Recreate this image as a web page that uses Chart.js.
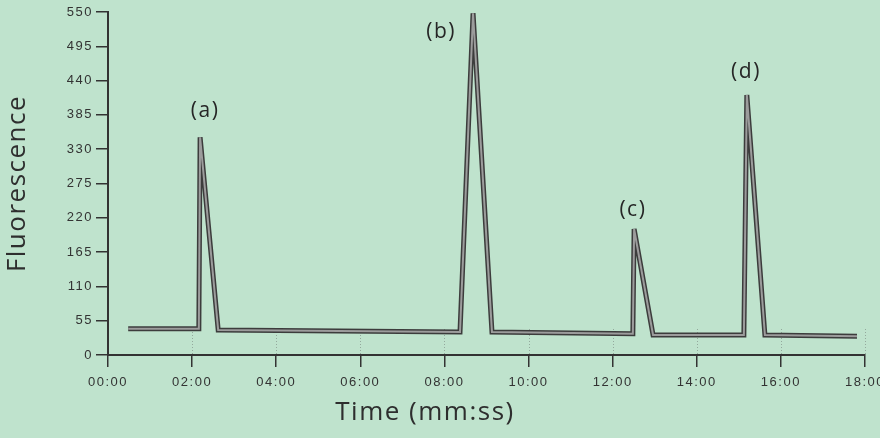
<!DOCTYPE html>
<html>
<head>
<meta charset="utf-8">
<script src="https://cdn.jsdelivr.net/npm/chart.js@4.4.1/dist/chart.umd.min.js"></script>
<style>
  html, body { margin: 0; padding: 0; background: #bfe3cd; }
  #wrap { width: 880px; height: 438px; }
</style>
</head>
<body>
<div id="wrap"><canvas id="fluo" width="880" height="438"></canvas></div>
<script>
// time in minutes, fluorescence
const times  = [0.48, 2.16, 2.19, 2.62, 8.37, 8.68, 9.13, 12.48, 12.51, 12.96, 15.12, 15.19, 15.62, 17.81];
const values = [42, 42, 349, 40, 37, 548, 37, 34, 202, 32, 32, 417, 32, 30];

const peakLabels = ['(a)', '(b)', '(c)', '(d)'];
const peakLabelTimes = [2.31, 7.92, 12.48, 15.17];
const peakLabelValues = [392, 518, 232, 454];

const yTicks = [0, 55, 110, 165, 220, 275, 330, 385, 440, 495, 550];
const xTicks = [0, 2, 4, 6, 8, 10, 12, 14, 16, 18];

const points = times.map((t, i) => ({ x: t, y: values[i] }));

const fmtTime = v => String(v).padStart(2, '0') + ':00';

// the scanned figure is a bit stretched sideways, so all text gets extra spacing
const extras = {
    id: 'extras',
    beforeDraw(chart) {
        chart.ctx.letterSpacing = '1.5px';
    },
    beforeDatasetsDraw(chart) {
        const ctx = chart.ctx, x = chart.scales.x, area = chart.chartArea;
        ctx.save();
        ctx.strokeStyle = 'rgba(120,130,125,0.6)';
        ctx.setLineDash([1, 2]);
        ctx.lineWidth = 1;
        xTicks.slice(1).forEach(t => {
            const px = Math.round(x.getPixelForValue(t)) + 0.5;
            ctx.beginPath();
            ctx.moveTo(px, area.bottom - 26);
            ctx.lineTo(px, area.bottom);
            ctx.stroke();
        });
        ctx.restore();
    },
    afterDraw(chart) {
        const ctx = chart.ctx, x = chart.scales.x, y = chart.scales.y;
        ctx.save();
        ctx.letterSpacing = '1.5px';
        ctx.fillStyle = '#262626';
        ctx.textAlign = 'center';
        ctx.textBaseline = 'middle';
        ctx.font = '21px "Open Sans"';
        peakLabels.forEach((lbl, i) => {
            ctx.fillText(lbl, x.getPixelForValue(peakLabelTimes[i]), y.getPixelForValue(peakLabelValues[i]));
        });
        ctx.font = '26px "Open Sans"';
        ctx.fillStyle = '#2e2e2e';
        ctx.fillText('Time (mm:ss)', 425, 413);
        ctx.restore();
    }
};

new Chart(document.getElementById('fluo'), {
    type: 'line',
    data: {
        datasets: [{
            data: points,
            borderColor: '#9c9c9c',
            borderWidth: 2,
            pointRadius: 0,
            tension: 0,
            order: 0
        }, {
            data: points,
            borderColor: '#3c3c3c',
            borderWidth: 5,
            pointRadius: 0,
            tension: 0,
            order: 1
        }]
    },
    options: {
        responsive: false,
        animation: false,
        layout: { padding: { left: 0, right: 15, top: 12, bottom: 0 } },
        plugins: {
            legend: { display: false },
            tooltip: { enabled: false }
        },
        scales: {
            x: {
                type: 'linear',
                min: 0,
                max: 18,
                afterBuildTicks: s => { s.ticks = xTicks.map(v => ({ value: v })); },
                afterFit: s => { s.height = 83; s.paddingLeft = 0; s.paddingRight = 0; },
                ticks: {
                    callback: v => fmtTime(v),
                    color: '#333',
                    font: { family: 'Liberation Sans', size: 13 },
                    padding: 8,
                    maxRotation: 0,
                    autoSkip: false
                },
                grid: { drawOnChartArea: false, drawTicks: true, tickLength: 12, color: '#333', lineWidth: 1.5 },
                border: { display: true, color: '#333', width: 2 }
            },
            y: {
                min: 0,
                max: 550,
                afterBuildTicks: s => { s.ticks = yTicks.map(v => ({ value: v })); },
                afterFit: s => { s.width = 108; s.paddingTop = 0; s.paddingBottom = 0; },
                ticks: {
                    color: '#333',
                    font: { family: 'Liberation Sans', size: 13 },
                    padding: 3,
                    autoSkip: false
                },
                grid: { drawOnChartArea: false, drawTicks: true, tickLength: 12, color: '#333', lineWidth: 1.5 },
                border: { display: true, color: '#333', width: 2 },
                title: {
                    display: true,
                    text: 'Fluorescence',
                    color: '#2e2e2e',
                    font: { family: 'Open Sans', size: 26 },
                    padding: { top: 2, bottom: 4 }
                }
            }
        }
    },
    plugins: [extras]
});
</script>
</body>
</html>
